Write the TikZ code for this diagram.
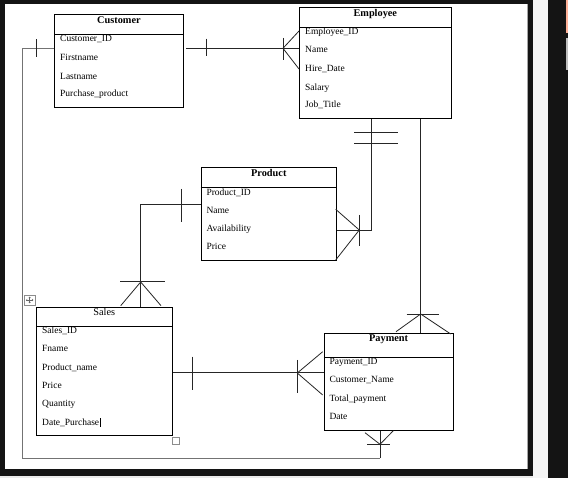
\documentclass[tikz,border=0pt]{standalone}
\usepackage{fontspec}
\setmainfont{Liberation Serif}
\begin{document}
\begin{tikzpicture}[x=1pt,y=-1pt,
  entity/.style={draw=black, line width=0.9pt, inner sep=0pt, anchor=north west, fill=white},
  sepline/.style={line width=0.9pt},
  ttl/.style={anchor=base, inner sep=0pt, font=\fontsize{10.3}{12}\selectfont\bfseries},
  ttlr/.style={anchor=base, inner sep=0pt, font=\fontsize{10.3}{12}\selectfont},
  attr/.style={anchor=base west, inner sep=0pt, font=\fontsize{9.5}{11}\selectfont},
  conn/.style={line width=0.8pt, black!85},
  faint/.style={line width=0.8pt, black!55},
  tickln/.style={line width=0.8pt, black!85}
]
\useasboundingbox (0,0) rectangle (568,478);
% screenshot frame
\fill[black!92] (0,0) rectangle (568,478);
\fill[white] (5,4) rectangle (528,469);
\draw[black!35, line width=0.6pt] (527,4) -- (527,469);
\fill[white!96!black] (533,0) rectangle (548,478);
\fill[white!92!black] (0,476) rectangle (533,478);
\fill[orange!50!red!40] (566,0) rectangle (568,33);
\fill[black!25] (566,38) rectangle (568,70);

% ---------------- entities ----------------
\node[entity, minimum width=128.4pt, minimum height=93pt] (cust) at (54.3,14.3) {};
\draw[sepline] ([yshift=-20pt]cust.north west) -- ([yshift=-20pt]cust.north east);
\node[ttl] (custT) at ([yshift=-9.7pt]cust.north) {Customer};
\node[attr] (c1) at (60,41.9) {Customer\_ID};
\node[attr] (c2) at (60,60.2) {Firstname};
\node[attr] (c3) at (60,79.2) {Lastname};
\node[attr] (c4) at (60,96.9) {Purchase\_product};

\node[entity, minimum width=151.7pt, minimum height=111pt] (emp) at (299,7.3) {};
\draw[sepline] ([yshift=-20pt]emp.north west) -- ([yshift=-20pt]emp.north east);
\node[ttl] (empT) at ([yshift=-9.4pt]emp.north) {Employee};
\node[attr] (e1) at (305,34.9) {Employee\_ID};
\node[attr] (e2) at (305,52.9) {Name};
\node[attr] (e3) at (305,71.9) {Hire\_Date};
\node[attr] (e4) at (305,90.2) {Salary};
\node[attr] (e5) at (305,107.9) {Job\_Title};

\node[entity, minimum width=135.3pt, minimum height=92.7pt] (prod) at (200.7,167.3) {};
\draw[sepline] ([yshift=-20pt]prod.north west) -- ([yshift=-20pt]prod.north east);
\node[ttl] (prodT) at ([yshift=-9.4pt]prod.north) {Product};
\node[attr] (p1) at (206.3,195.2) {Product\_ID};
\node[attr] (p2) at (206.3,213.2) {Name};
\node[attr] (p3) at (206.3,231.9) {Availability};
\node[attr] (p4) at (206.3,249.9) {Price};

\node[entity, minimum width=135.7pt, minimum height=128.3pt] (sales) at (36,306.7) {};
\draw[sepline] ([yshift=-19.6pt]sales.north west) -- ([yshift=-19.6pt]sales.north east);
\node[ttlr] (salesT) at ([yshift=-8.8pt]sales.north) {Sales};
\node[attr] (s1) at (42,333.9) {Sales\_ID};
\node[attr] (s2) at (42,351.9) {Fname};
\node[attr] (s3) at (42,370.9) {Product\_name};
\node[attr] (s4) at (42,388.9) {Price};
\node[attr] (s5) at (42,406.9) {Quantity};
\node[attr] (s6) at (42,425.9) {Date\_Purchase};
\draw[line width=0.7pt] ([xshift=1pt,yshift=-1pt]s6.base east) -- ++(0,-9);

\node[entity, minimum width=129pt, minimum height=96.7pt] (pay) at (323.7,333.3) {};
\draw[sepline] ([yshift=-24pt]pay.north west) -- ([yshift=-24pt]pay.north east);
\node[ttl] (payT) at ([yshift=-8.6pt]pay.north) {Payment};
\node[attr] (y1) at (329.3,364.5) {Payment\_ID};
\node[attr] (y2) at (329.3,382.9) {Customer\_Name};
\node[attr] (y3) at (329.3,401.9) {Total\_payment};
\node[attr] (y4) at (329.3,419.9) {Date};

% small handles
\draw[black!45, line width=0.5pt] (24.3,295) rectangle (35,305);
\draw[black!60, line width=0.5pt] (26.3,300) -- (33,300) (29.65,297) -- (29.65,303);
\draw[black!60, line width=0.4pt] (27.3,299) -- (26.3,300) -- (27.3,301) (32,299) -- (33,300) -- (32,301)
  (28.65,298) -- (29.65,297) -- (30.65,298) (28.65,302) -- (29.65,303) -- (30.65,302);
\draw[black!45, line width=0.5pt] (172.3,437.7) rectangle (179.3,444.7);

% ---------------- connectors ----------------
% Customer -- Employee
\coordinate (ceY) at (0,48.3);
\draw[conn] ([xshift=2.6pt]ceY -| cust.east) -- (ceY -| emp.west);
\draw[tickln] (206.7,38.7) -- (206.7,56.3);
\draw[tickln] (283,38) -- (283,60);
\draw[conn] (ceY -| 283,0) -- (emp.west |- 0,31);
\draw[conn] (ceY -| 283,0) -- (emp.west |- 0,69);

% Customer -- Payment (around the left and bottom)
\coordinate (cpL) at (22.7,458);
\coordinate (cpB) at (380,458);
\draw[faint] (ceY -| cust.west) -- (ceY -| cpL) -- (cpL) -- (cpB);
\draw[conn] (cpB) -- (cpB |- pay.south);
\draw[tickln] (36,39.3) -- (36,56.7);
\draw[tickln] (367.3,444.3) -- (390,444.3);
\draw[conn] (380,444.3) -- (365,432.7);
\draw[conn] (380,444.3) -- (393.3,430.7);

% Employee -- Payment
\coordinate (epX) at (420.7,0);
\draw[conn] (epX |- emp.south) -- (epX |- pay.north);
\draw[tickln] (406.7,314) -- (439.3,314);
\draw[conn] (420.7,314) -- (396,331.7);
\draw[conn] (420.7,314) -- (450.7,334);

% Employee -- Product
\coordinate (eprod) at (371.2,230);
\draw[conn] (eprod |- emp.south) -- (eprod) -- (eprod -| prod.east);
\draw[tickln] (354,132.3) -- (398.3,132.3);
\draw[tickln] (354,143.3) -- (398.3,143.3);
\draw[tickln] (359.3,215) -- (359.3,245.7);
\draw[conn] (359.3,230) -- (335.7,209.3);
\draw[conn] (359.3,230) -- (335.7,260);

% Product -- Sales
\coordinate (psC) at (140.7,204);
\draw[conn] (psC -| prod.west) -- (psC) -- (psC |- sales.north);
\draw[tickln] (181.7,189) -- (181.7,221.7);
\draw[tickln] (120,281) -- (165,281);
\draw[conn] (140.7,282) -- (120.7,305.7);
\draw[conn] (140.7,282) -- (161,305.7);

% Sales -- Payment
\coordinate (spY) at (0,372.8);
\draw[conn] (spY -| sales.east) -- (spY -| pay.west);
\draw[tickln] (192.7,356.7) -- (192.7,390);
\draw[tickln] (297.3,360) -- (297.3,393.3);
\draw[conn] (297.3,373) -- (322.7,351.7);
\draw[conn] (297.3,373) -- (322.7,395);
\end{tikzpicture}
\end{document}
